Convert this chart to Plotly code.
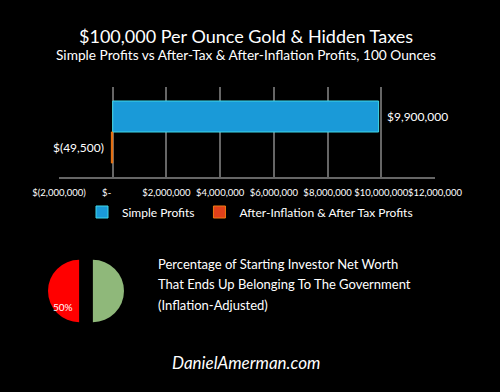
import plotly.graph_objects as go

# ---- data ----
series_names = ["Simple Profits", "After-Inflation & After Tax Profits"]
series_values = [9900000, -49500]
series_labels = ["$9,900,000", "$(49,500)"]
tick_vals = [-2000000, 0, 2000000, 4000000, 6000000, 8000000, 10000000, 12000000]
tick_text = ["$(2,000,000)", "$-     ", "$2,000,000", "$4,000,000", "$6,000,000",
             "$8,000,000", "$10,000,000", "$12,000,000"]
pie_labels = ["Investor", "Government"]
pie_values = [50, 50]
gov_share = 50
desc_lines = ["Percentage of Starting Investor Net Worth",
              "That Ends Up Belonging To The Government",
              "(Inflation-Adjusted)"]

W, H = 500, 392
FONT = "Lato"
GRID = "#666666"

def py(px):
    return 1 - px / H

# bar slots (layout positions): top bar at 1, lower bar at 0, each one unit tall
slots = [1, 0]
half_span = (90 / 31) / 2
y_range = [0.5 - half_span, 0.5 + half_span]

fig = go.Figure()

bar_colors = ["#1a9ad8", "#e0401a"]
bar_lines = ["#3fd8e8", "#f07a10"]
for name, v, lab, c, lc, s in zip(series_names, series_values, series_labels,
                                   bar_colors, bar_lines, slots):
    fig.add_trace(go.Bar(
        y=[s], x=[v], orientation="h", name=name, width=1,
        marker=dict(color=c, line=dict(color=lc, width=1)),
        xaxis="x", yaxis="y", hoverinfo="x+name",
    ))
    fig.add_annotation(
        x=v, y=s, xref="x", yref="y", text=lab, showarrow=False,
        xanchor="left" if v >= 0 else "right", xshift=6 if v >= 0 else -5,
        yanchor="middle", font=dict(family=FONT, color="white", size=12),
    )

fig.add_trace(go.Pie(
    labels=pie_labels, values=pie_values, sort=False, direction="clockwise",
    rotation=0, pull=[0.22, 0.22],
    marker=dict(colors=["#8fb87a", "#ff0000"], line=dict(width=0)),
    textinfo="none", showlegend=False, hoverinfo="label+percent",
    domain=dict(x=[48 / W, 124 / W], y=[py(329), py(253)]),
))

fig.update_layout(
    width=W, height=H, autosize=False,
    paper_bgcolor="black", plot_bgcolor="black",
    margin=dict(l=0, r=0, t=0, b=0, pad=0, autoexpand=False),
    barmode="overlay",
    font=dict(family=FONT, color="white"),
    xaxis=dict(domain=[59 / W, 435 / W], range=[-2000000, 12000000],
               tickvals=tick_vals, ticktext=tick_text, tickangle=0,
               tickfont=dict(size=9.5, color="white", family=FONT),
               ticks="outside", ticklen=6, tickcolor="rgba(0,0,0,0)",
               showgrid=True, gridcolor=GRID, gridwidth=2,
               zeroline=False, showline=True, linecolor=GRID, linewidth=2,
               anchor="y", fixedrange=True),
    yaxis=dict(domain=[py(177), py(87)], range=y_range, showticklabels=False,
               showgrid=False, zeroline=False, showline=False, anchor="x",
               fixedrange=True),
    legend=dict(orientation="h", x=0.5, xanchor="center", y=py(212), yanchor="middle",
                font=dict(size=12, color="white", family=FONT),
                bgcolor="rgba(0,0,0,0)", itemwidth=30),
    showlegend=True,
)

ann = [
    dict(text="$100,000 Per Ounce Gold & Hidden Taxes", x=0.492, y=py(36),
         font=dict(size=18)),
    dict(text="Simple Profits vs After-Tax & After-Inflation Profits, 100 Ounces",
         x=0.492, y=py(55), font=dict(size=13.7)),
    dict(text=f"{gov_share}%", x=63 / W, y=py(307), font=dict(size=10)),
    dict(text="<i>DanielAmerman.com</i>", x=246 / W, y=py(362), font=dict(size=17)),
]
for line, ypx in zip(desc_lines, [264, 284, 305]):
    ann.append(dict(text=line, x=156 / W, y=py(ypx), xanchor="left", font=dict(size=13)))

for a in ann:
    a.setdefault("xanchor", "center")
    a["yanchor"] = "middle"
    a["xref"] = "paper"
    a["yref"] = "paper"
    a["showarrow"] = False
    a["font"] = dict(family=FONT, color="white", **a["font"])
    fig.add_annotation(**a)

fig.write_html("out.html", config={"responsive": False, "displayModeBar": False},
               post_script=(
    "document.body.style.margin='0';document.body.style.padding='0';"
    "document.body.style.overflow='hidden';document.body.style.background='black';"))
